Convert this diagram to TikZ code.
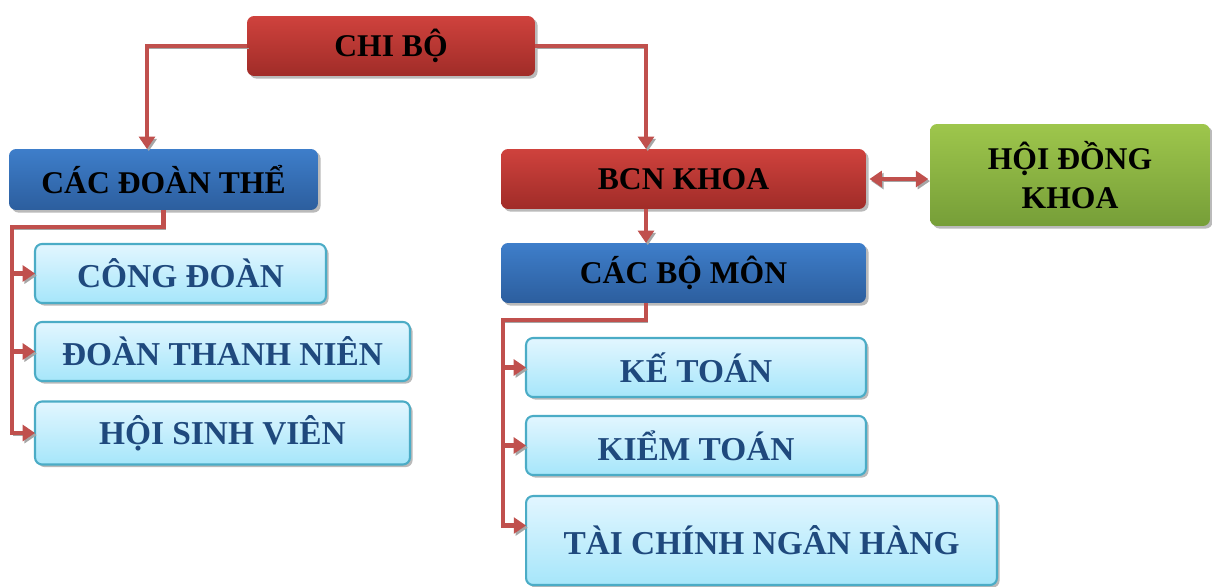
\documentclass[tikz,border=0pt]{standalone}
\usepackage{fontspec}
\setmainfont{Liberation Serif}
\usetikzlibrary{arrows.meta,shadows,calc}

\definecolor{linered}{RGB}{192,80,77}
\definecolor{redtop}{RGB}{207,66,61}
\definecolor{redbot}{RGB}{160,44,40}
\definecolor{bluetop}{RGB}{62,126,202}
\definecolor{bluebot}{RGB}{44,94,158}
\definecolor{greentop}{RGB}{158,198,76}
\definecolor{greenbot}{RGB}{118,158,56}
\definecolor{cyantop}{RGB}{226,246,255}
\definecolor{cyanbot}{RGB}{166,230,250}
\definecolor{cyanline}{RGB}{75,172,198}
\definecolor{navytext}{RGB}{31,73,125}

\begin{document}
\begin{tikzpicture}[
    x = 0.02cm, y = -0.02cm,
    box/.style = {
      rounded corners = 4pt,
      inner sep = 0pt, outer sep = 0pt,
      align = center,
      font = \bfseries\fontsize{18}{22}\selectfont,
      drop shadow = {shadow xshift = 1.5pt, shadow yshift = -1.5pt,
                     fill = black!45, opacity = .6}
    },
    redbox/.style   = {box, top color = redtop,   bottom color = redbot},
    bluebox/.style  = {box, top color = bluetop,  bottom color = bluebot},
    greenbox/.style = {box, top color = greentop, bottom color = greenbot},
    lightbox/.style = {
      box, top color = cyantop, bottom color = cyanbot,
      draw = cyanline, line width = 1.2pt, text = navytext,
      font = \bfseries\fontsize{19}{22}\selectfont
    },
    link/.style = {
      line width = 2.8pt, draw = linered,
      preaction = {draw = black!35, transform canvas = {shift = {(1pt,-1.2pt)}}}
    },
    arr/.style = {link, -{Triangle[length = 7pt, width = 9pt]}}
  ]
  \useasboundingbox (0,0) rectangle (1212,587);

  % The top row
  \node[redbox,   minimum width = 5.76cm, minimum height = 1.2cm]  (chibo)    at (391,46)     {CHI BỘ};
  \node[bluebox,  minimum width = 6.18cm, minimum height = 1.22cm] (doanthe)  at (163.5,179.5) {CÁC ĐOÀN THỂ};
  \node[redbox,   minimum width = 7.3cm,  minimum height = 1.2cm]  (bcn)      at (683.5,179)  {BCN KHOA};
  \node[greenbox, minimum width = 5.6cm,  minimum height = 2.04cm] (hoidong)  at (1070,175)   {HỘI ĐỒNG\\KHOA};

  % The left column
  \node[lightbox, minimum width = 5.82cm, minimum height = 1.18cm] (congdoan)  at (180.5,273.5) {CÔNG ĐOÀN};
  \node[lightbox, minimum width = 7.5cm,  minimum height = 1.18cm] (thanhnien) at (222.5,351.5) {ĐOÀN THANH NIÊN};
  \node[lightbox, minimum width = 7.5cm,  minimum height = 1.26cm] (sinhvien)  at (222.5,433)   {HỘI SINH VIÊN};

  % The right column
  \node[bluebox,  minimum width = 7.3cm,  minimum height = 1.2cm]  (bomon)    at (683.5,273)   {CÁC BỘ MÔN};
  \node[lightbox, minimum width = 6.8cm,  minimum height = 1.18cm] (ketoan)   at (696,367.5)   {KẾ TOÁN};
  \node[lightbox, minimum width = 6.8cm,  minimum height = 1.18cm] (kiemtoan) at (696,445.5)   {KIỂM TOÁN};
  \node[lightbox, minimum width = 9.42cm, minimum height = 1.78cm] (taichinh) at (761.5,540.5) {TÀI CHÍNH NGÂN HÀNG};

  % From the top down
  \draw[arr] (chibo.west) -| ($(doanthe.north)+(-16.5,0)$);
  \draw[arr] (chibo.east) -| ($(bcn.north)+(-37.5,0)$);
  \draw[arr] ($(bcn.south)+(-37.5,0)$) -- ($(bomon.north)+(-37.5,0)$);
  \draw[link, {Triangle[length = 7pt, width = 9pt]}-{Triangle[length = 7pt, width = 9pt]},
        shorten <= 2pt, shorten >= 1pt] (bcn.east) -- (bcn.east -| hoidong.west);

  % The two trunks
  \coordinate (lturn) at (12,227);
  \coordinate (rturn) at (503,320);
  \draw[arr] (doanthe.south) |- (lturn) |- (sinhvien.west);
  \draw[arr] ($(bomon.south)+(-37.5,0)$) |- (rturn) |- ($(taichinh.west)+(0,-15)$);
  \foreach \n in {congdoan, thanhnien}
    \draw[arr] (lturn |- \n.west) -- (\n.west);
  \foreach \n in {ketoan, kiemtoan}
    \draw[arr] (rturn |- \n.west) -- (\n.west);
\end{tikzpicture}
\end{document}
